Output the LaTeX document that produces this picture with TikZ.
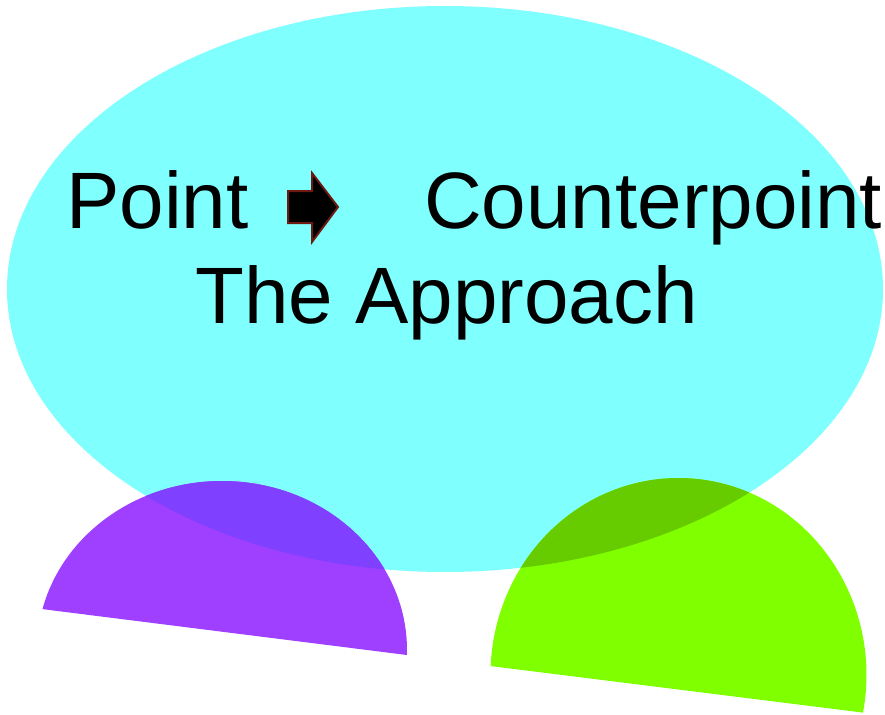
\documentclass[tikz,border=0pt]{standalone}
\usepackage{fontspec}
\setmainfont{Liberation Sans}
\begin{document}
\begin{tikzpicture}[x=1pt,y=-1pt,
  txt/.style={inner sep=0pt, anchor=base west, font=\fontsize{80}{96}\selectfont, text=black}]
\definecolor{cyanbg}{HTML}{80FFFF}
\definecolor{purp}{HTML}{9F3FFF}
\definecolor{purpov}{HTML}{8040FF}
\definecolor{grn}{HTML}{80FF00}
\definecolor{grnov}{HTML}{66CC00}
\definecolor{arrowedge}{HTML}{6E1A10}
\useasboundingbox (0,0) rectangle (885,714);
\def\bigell{(445,289) ellipse [x radius=438, y radius=283]}
\def\purplepath{(406.9,655) arc [start angle=1.7, end angle=-166, x radius=185, y radius=169] -- cycle}
\def\greenpath{(863,712.6) arc [start angle=11, end angle=-177.4, x radius=188, y radius=197] -- cycle}
% big ellipse
\fill[cyanbg] \bigell;
% half disks
\fill[purp] \purplepath;
\fill[grn] \greenpath;
% overlaps
\begin{scope}
  \clip \bigell;
  \fill[purpov] \purplepath;
  \fill[grnov] \greenpath;
\end{scope}
% texts
\node[txt] (point) at (66,228) {Point};
\node[txt] (counter) at (424,228) {Counterpoint};
\node[txt] (approach) at (195,323) {The Approach};
% arrow
\draw[arrowedge, line width=2pt, fill=black, line join=miter]
  (288,191) -- (312,191) -- (312,173) -- (338,207) -- (312,242) -- (312,223) -- (288,223) -- cycle;
\end{tikzpicture}
\end{document}
